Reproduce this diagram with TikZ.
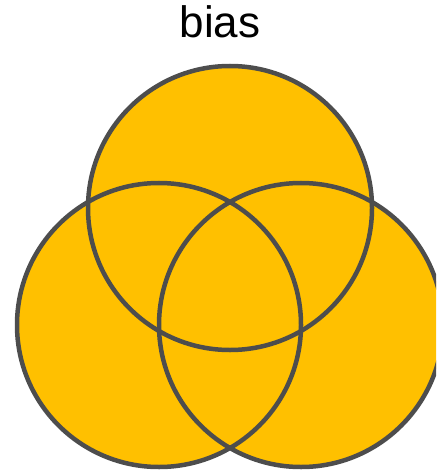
\documentclass[tikz,border=0pt]{standalone}
\usepackage{fontspec}
\setmainfont{Liberation Sans}
\definecolor{vennfill}{HTML}{FFC000}
\definecolor{vennline}{HTML}{4D4D4D}
\tikzset{
  venncircle/.style={circle, minimum size=284pt, inner sep=0pt, outer sep=0pt},
  vennedge/.style={draw=vennline, line width=4.5pt},
}
\begin{document}
\begin{tikzpicture}[x=1pt,y=-1pt]
\useasboundingbox (0,0) rectangle (436,470);
\clip (0,0) rectangle (436,470);
\node[venncircle, fill=vennfill] (top) at (230,208) {};
\node[venncircle, fill=vennfill] (left) at (159,325) {};
\node[venncircle, fill=vennfill] (right) at (301,325) {};
\node[venncircle, vennedge] at (top) {};
\node[venncircle, vennedge] at (left) {};
\node[venncircle, vennedge] at (right) {};
\node[anchor=base, font=\fontsize{44}{50}\selectfont, inner sep=0pt] (title) at (220,38) {bias};
\end{tikzpicture}
\end{document}
